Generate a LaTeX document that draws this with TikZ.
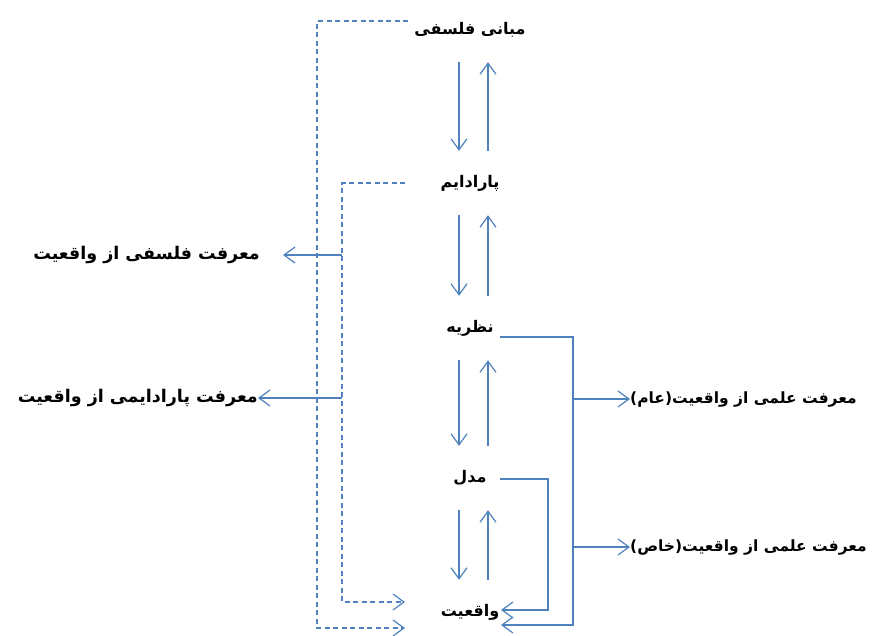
\documentclass[tikz,border=0pt]{standalone}
\usepackage{fontspec}
\usepackage{tikz}
\usetikzlibrary{arrows.meta, positioning}
\TeXXeTstate=1
\newfontfamily\arabicfont[Script=Arabic]{DejaVu Sans}
\definecolor{linkblue}{HTML}{4F81BD}
\newcommand{\fa}[1]{{\arabicfont\bfseries\beginR #1\endR}}

\begin{document}
\begin{tikzpicture}[x=1pt, y=-1pt, >={Straight Barb[length=11pt, width=16pt]},
    box/.style={minimum height=64pt, inner sep=0pt, font=\fontsize{16}{19}\selectfont},
    lbl/.style={inner sep=0pt, font=\fontsize{17.5}{21}\selectfont},
    rlbl/.style={inner sep=0pt, font=\fontsize{15.5}{19}\selectfont},
    link/.style={draw=linkblue, line width=1.2pt},
    dlink/.style={link, dash pattern=on 5pt off 3.5pt}]
    \useasboundingbox (0,0) rectangle (889,635);

    \node [box] (phil) at (470,30) {\fa{مبانی فلسفی}};
    \node [box, below of=phil, node distance=153pt] (para) {\fa{پارادایم}};
    \node [box, below of=para, node distance=145pt] (theo) {\fa{نظریه}};
    \node [box, below of=theo, node distance=150pt] (model) {\fa{مدل}};
    \node [box, below of=model, node distance=134pt] (real) {\fa{واقعیت}};

    \node [lbl, anchor=east] (kphil) at (260,255) {\fa{معرفت فلسفی از واقعیت}};
    \node [lbl, anchor=east] (kpara) at (258,398) {\fa{معرفت پارادایمی از واقعیت}};
    \node [rlbl, anchor=west] (kgen) at (630,399) {\fa{معرفت علمی از واقعیت(عام)}};
    \node [rlbl, anchor=west] (kspec) at (630,547) {\fa{معرفت علمی از واقعیت(خاص)}};

    \coordinate (outer) at (317,628);
    \coordinate (inner) at (342,602);
    \coordinate (tbus) at (573,625);
    \coordinate (mbus) at (548,610);
    \coordinate (realwl) at ([xshift=-65pt]real.center);
    \coordinate (realer) at ([xshift=31pt]real.center);

    \draw [link, ->] ([xshift=-11pt]phil.south) -- ([xshift=-11pt]para.north);
    \draw [link, ->] ([xshift=18pt]para.north) -- ([xshift=18pt]phil.south);
    \draw [link, ->] ([xshift=-11pt]para.south) -- ([xshift=-11pt]theo.north);
    \draw [link, ->] ([xshift=18pt]theo.north) -- ([xshift=18pt]para.south);
    \draw [link, ->] ([xshift=-11pt]theo.south) -- ([xshift=-11pt]model.north);
    \draw [link, ->] ([xshift=18pt]model.north) -- ([xshift=18pt]theo.south);
    \draw [link, ->] ([xshift=-11pt]model.south) -- ([xshift=-11pt]real.north);
    \draw [link, ->] ([xshift=18pt]real.north) -- ([xshift=18pt]model.south);

    \draw [dlink, ->] ([xshift=-62pt, yshift=9pt]phil.center) -| (outer) -- (realwl |- outer);
    \draw [dlink, ->] ([xshift=-65pt]para.center) -| (inner) -- (realwl |- inner);
    \draw [link, ->] ([xshift=30pt, yshift=-9pt]theo.center) -| (tbus) -- (realer |- tbus);
    \draw [link, ->] ([xshift=30pt, yshift=-1pt]model.center) -| (mbus) -- (realer |- mbus);

    \draw [link, ->] (inner |- kphil) -- ([xshift=23pt]kphil.east);
    \draw [link, ->] (inner |- kpara) -- (kpara.east);
    \draw [link, ->] (tbus |- kgen) -- (kgen.west);
    \draw [link, ->] (tbus |- kspec) -- (kspec.west);
\end{tikzpicture}
\end{document}
